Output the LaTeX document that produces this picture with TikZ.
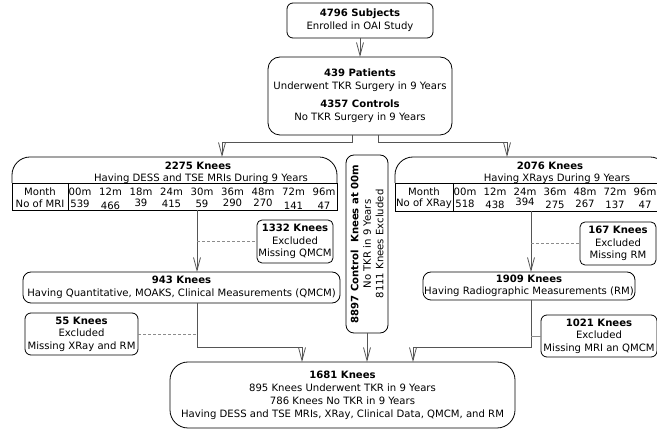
\documentclass[tikz,border=0pt]{standalone}
\usepackage{fontspec}
\setmainfont{DejaVu Sans}
\usetikzlibrary{arrows.meta}
\definecolor{cline}{RGB}{85,85,85}
\definecolor{dline}{RGB}{140,140,140}
\begin{document}
\begin{tikzpicture}[x=1pt,y=-1pt,
  every node/.style={font=\fontsize{10.1}{13}\selectfont, inner sep=0pt, outer sep=0pt},
  box/.style={draw, line width=0.8pt, rounded corners=#1, align=center, anchor=north west},
  box/.default=6pt,
  tight/.style={font=\fontsize{10.1}{12.5}\selectfont},
  frame/.style={line width=0.8pt},
  conn/.style={draw=cline, line width=0.8pt, -{Straight Barb[length=13pt,width=7pt,line width=0.8pt]}},
  dashline/.style={draw=dline, line width=0.8pt, dash pattern=on 3pt off 2pt},
  thinline/.style={draw=dline, line width=0.8pt},
  cell/.style={anchor=center}
]
\useasboundingbox (0,0) rectangle (657,430);

% helper coordinates for connector columns
\coordinate (xa) at (197,0);
\coordinate (xb) at (531,0);
\coordinate (xL) at (352,0);
\coordinate (xR) at (378,0);
\coordinate (xin1) at (222,0);
\coordinate (xin2) at (507,0);
\coordinate (xm1) at (302,0);
\coordinate (xm2) at (413,0);
\coordinate (yj) at (0,347);

% top boxes
\node[box=6pt, minimum width=146pt, minimum height=35pt] (subj) at (287,3)
  {\textbf{4796 Subjects}\\Enrolled in OAI Study};
\node[box=12pt, minimum width=184pt, minimum height=78pt] (pat) at (268,57)
  {\textbf{439 Patients}\\Underwent TKR Surgery in 9 Years\\[5pt]\textbf{4357 Controls}\\No TKR Surgery in 9 Years};

% MRI group
\node[anchor=north west, minimum width=325pt, minimum height=53pt] (mri) at (12,157) {};
\draw[frame, rounded corners=18pt] (12,183) -- (12,157) -- (337,157) -- (337,183);
\draw[frame] (12,183) rectangle (337,210);
\draw[frame] (68,183) -- (68,210);
\node (mrit1) at (198,166) {\textbf{2275 Knees}};
\node (mrit2) at (201,179) {Having DESS and TSE MRIs During 9 Years};
\node (mrim) at (40,192) {Month};
\node (mrin) at (40,204) {No of MRI};
\foreach \m [count=\i from 0] in {00m,12m,18m,24m,30m,36m,48m,72m,96m}
  \node[cell] (mrih\i) at ({80+30.5*\i},192) {\m};
\foreach \m/\yy [count=\i from 0] in {539/203.5,466/205.5,39/203,415/203.5,59/203.5,290/203,270/203,141/206,47/206}
  \node[cell] (mriv\i) at ({80+30.5*\i},\yy) {\m};

% XRay group
\node[anchor=north west, minimum width=273pt, minimum height=54pt] (xr) at (395,157) {};
\draw[frame, rounded corners=18pt] (395,183) -- (395,157) -- (668,157) -- (668,183);
\draw[frame] (395,183) rectangle (668,211);
\draw[frame] (453,183) -- (453,211);
\node (xrt1) at (550,166) {\textbf{2076 Knees}};
\node (xrt2) at (557,179) {Having XRays During 9 Years};
\node (xrm) at (424,192) {Month};
\node (xrn) at (424,204) {No of XRay};
\foreach \m [count=\i from 0] in {00m,12m,24m,36m,48m,72m,96m}
  \node[cell] (xrh\i) at ({465+30*\i},192) {\m};
\foreach \m/\yy [count=\i from 0] in {518/204,438/205,394/202,275/205,267/204,137/205,47/205}
  \node[cell] (xrv\i) at ({465+30*\i},\yy) {\m};

% control box
\node[box=8pt, minimum width=42pt, minimum height=178pt] (ctrl) at (346,155) {};
\node[rotate=90, align=center, font=\fontsize{10.1}{12.5}\selectfont] (ctrlt) at (ctrl.center)
  {\textbf{8897 Control\ \ Knees at 00m}\\No TKR in 9 Years\\8111 Knees Excluded};

% exclusion boxes
\node[box=5pt, tight, minimum width=76pt, minimum height=43pt] (ex1332) at (257,220)
  {\textbf{1332 Knees}\\Excluded\\Missing QMCM};
\node[box=5pt, tight, minimum width=76pt, minimum height=43pt] (ex167) at (580,222)
  {\textbf{167 Knees}\\Excluded\\Missing RM};
\node[box=6pt, tight, minimum width=113pt, minimum height=42pt] (ex55) at (25,313)
  {\textbf{55 Knees}\\Excluded\\Missing XRay and RM};
\node[box=6pt, tight, minimum width=116pt, minimum height=42pt] (ex1021) at (541,315)
  {\textbf{1021 Knees}\\Excluded\\Missing MRI an QMCM};

% measurement boxes
\node[box=8pt, tight, minimum width=317pt, minimum height=31pt] (qmcm) at (23,272)
  {\textbf{943 Knees}\\Having Quantitative, MOAKS, Clinical Measurements (QMCM)};
\node[box=8pt, tight, minimum width=212pt, minimum height=28pt] (rm) at (423,272)
  {\textbf{1909 Knees}\\Having Radiographic Measurements (RM)};

% final box
\node[box=18pt, minimum width=345pt, minimum height=66pt] (fin) at (170,362)
  {\textbf{1681 Knees}\\895 Knees Underwent TKR in 9 Years\\786 Knees No TKR in 9 Years\\Having DESS and TSE MRIs, XRay, Clinical Data, QMCM, and RM};

% connectors
\draw[conn] (subj) -- (pat);
\draw[conn] (pat.south -| xL) -- ++(0,7) -| (mri.north -| xin1);
\draw[conn] (pat.south -| xR) -- ++(0,7) -| (xr.north -| xin2);
\draw[conn] (mri.south -| xa) -- (qmcm.north -| xa);
\draw[dashline] (ex1332.west -| xa) -- (ex1332.west);
\draw[conn] (xr.south -| xb) -- (rm.north -| xb);
\draw[dashline] (ex167.west -| xb) -- (ex167.west);
\draw[conn] (qmcm.south -| xa) -- (xa |- yj) -| (fin.north -| xm1);
\draw[dashline] (ex55.east) -- (ex55.east -| xa);
\draw[conn] (rm.south -| xb) -- (xb |- yj) -| (fin.north -| xm2);
\draw[thinline] (ex1021.west) -- (ex1021.west -| xb);
\draw[conn] (ctrl.south) -- (fin.north -| ctrl.south);
\end{tikzpicture}
\end{document}
